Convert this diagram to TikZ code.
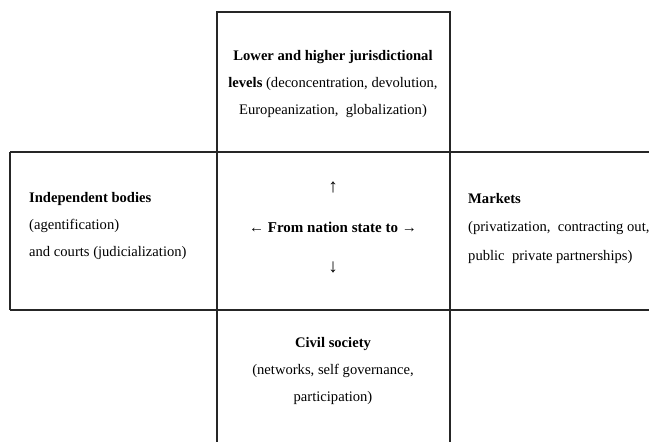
\documentclass[tikz,border=0pt]{standalone}
\usepackage{fontspec}
\setmainfont{Liberation Serif}
\begin{document}
\begin{tikzpicture}[x=1pt,y=-1pt,
  grid/.style={line width=1.1pt,draw=black!85},
  txt/.style={inner sep=0pt,font=\fontsize{14.6}{27}\selectfont},
  arr/.style={inner sep=0pt,font=\fontsize{15}{15}\selectfont},
  varr/.style={inner sep=0pt,font=\fontsize{19}{19}\selectfont}]
\useasboundingbox (0,0) rectangle (649,442);
\draw[grid] (217,442) -- (217,12) -- (450,12) -- (450,442);
\draw[grid] (10,152) -- (649,152);
\draw[grid] (10,310) -- (649,310);
\draw[grid] (10,152) -- (10,310);
\node[txt,align=center] (top) at (333,84) {\textbf{Lower and higher jurisdictional}\\\textbf{levels} (deconcentration, devolution,\\Europeanization,\ \ globalization)};
\node[txt,align=left,anchor=west] (left) at (29,226) {\textbf{Independent bodies}\\(agentification)\\and courts (judicialization)};
\node[txt,align=left,anchor=west,font=\fontsize{14.6}{28.5}\selectfont] (right) at (468,228) {\textbf{Markets}\\(privatization,\ \ contracting out,\\public\ \ private partnerships)};
\node[txt,align=center] (bottom) at (333,371) {\textbf{Civil society}\\(networks, self governance,\\participation)};
\node[arr] (center) at (333,227) {← \textbf{From nation state to} →};
\node[varr] (up) at (333,187) {↑};
\node[varr] (down) at (333,267) {↓};
\end{tikzpicture}
\end{document}
